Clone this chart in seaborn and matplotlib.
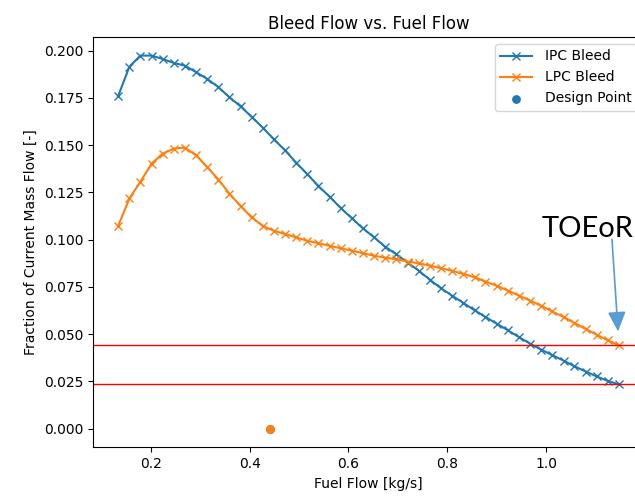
import numpy as np
import matplotlib
matplotlib.use("Agg")
import matplotlib.pyplot as plt
import seaborn as sns

# Fuel flow sweep [kg/s]
fuel_flow = [0.134, 0.157, 0.179, 0.202, 0.224, 0.247, 0.269, 0.292, 0.314, 0.337,
             0.359, 0.382, 0.404, 0.427, 0.449, 0.472, 0.494, 0.517, 0.539, 0.562,
             0.584, 0.607, 0.629, 0.652, 0.674, 0.697, 0.720, 0.742, 0.765, 0.787,
             0.810, 0.832, 0.855, 0.877, 0.900, 0.922, 0.945, 0.967, 0.990, 1.012,
             1.035, 1.057, 1.080, 1.102, 1.125, 1.147]

# Bleed fractions of current mass flow [-]
ipc_bleed = [0.1759, 0.1916, 0.1974, 0.1974, 0.1956, 0.1935, 0.1921, 0.1886, 0.1851, 0.1807,
             0.1754, 0.1705, 0.1650, 0.1592, 0.1531, 0.1472, 0.1408, 0.1346, 0.1284, 0.1227,
             0.1168, 0.1113, 0.1060, 0.1012, 0.0963, 0.0922, 0.0878, 0.0836, 0.0787, 0.0743,
             0.0703, 0.0666, 0.0626, 0.0591, 0.0555, 0.0521, 0.0484, 0.0450, 0.0418, 0.0389,
             0.0360, 0.0330, 0.0302, 0.0276, 0.0252, 0.0234]

lpc_bleed = [0.1072, 0.1218, 0.1306, 0.1403, 0.1455, 0.1482, 0.1487, 0.1446, 0.1385, 0.1318,
             0.1244, 0.1177, 0.1118, 0.1072, 0.1047, 0.1030, 0.1012, 0.0994, 0.0981, 0.0968,
             0.0954, 0.0942, 0.0928, 0.0915, 0.0905, 0.0896, 0.0884, 0.0875, 0.0863, 0.0849,
             0.0835, 0.0819, 0.0801, 0.0778, 0.0756, 0.0731, 0.0704, 0.0678, 0.0650, 0.0620,
             0.0591, 0.0559, 0.0527, 0.0497, 0.0467, 0.0441]

# Design point (fuel flow, bleed)
design_fuel = [0.442]
design_ipc = [0.0]
design_lpc = [0.0]

blue = "#1f77b4"
orange = "#ff7f0e"

fig = plt.figure(figsize=(6.35, 4.98), dpi=100)
ax = fig.add_axes([0.1465, 0.1018, 0.8677, 0.824])

sns.lineplot(x=fuel_flow, y=ipc_bleed, ax=ax, color=blue, marker="x",
             markeredgecolor=blue, markeredgewidth=1.0, markersize=5.5,
             linewidth=1.5, label="IPC Bleed")
sns.lineplot(x=fuel_flow, y=lpc_bleed, ax=ax, color=orange, marker="x",
             markeredgecolor=orange, markeredgewidth=1.0, markersize=5.5,
             linewidth=1.5, label="LPC Bleed")
sns.scatterplot(x=design_fuel, y=design_ipc, ax=ax, color=blue, s=40,
                linewidth=0, label="Design Point")
sns.scatterplot(x=design_fuel, y=design_lpc, ax=ax, color=orange, s=40,
                linewidth=0)

# End-of-sweep reference levels
ax.axhline(lpc_bleed[-1], color="red", linewidth=1.0)
ax.axhline(ipc_bleed[-1], color="red", linewidth=1.0)

ax.set_title("Bleed Flow vs. Fuel Flow", fontsize=12)
ax.set_xlabel("Fuel Flow [kg/s]")
ax.set_ylabel("Fraction of Current Mass Flow [-]")
ax.legend(loc="upper right", handlelength=2.3, handletextpad=0.9)

# Top-of-climb / end-of-run marker pointing at the final LPC point
ax.annotate("", xy=(fuel_flow[-1], lpc_bleed[-1]), xycoords="data",
            xytext=(-7, 106), textcoords="offset pixels",
            arrowprops=dict(arrowstyle="-|>,head_length=1.2,head_width=0.55",
                            color="#5b9bd5", linewidth=1.2,
                            shrinkA=0, shrinkB=10))
ax.annotate("TOEoR", xy=(fuel_flow[-1], lpc_bleed[-1]), xycoords="data",
            xytext=(-31, 108), textcoords="offset pixels",
            ha="center", va="baseline", fontsize=21, family="Lato",
            color="black", annotation_clip=False)

fig.savefig("out.png", dpi=100)
